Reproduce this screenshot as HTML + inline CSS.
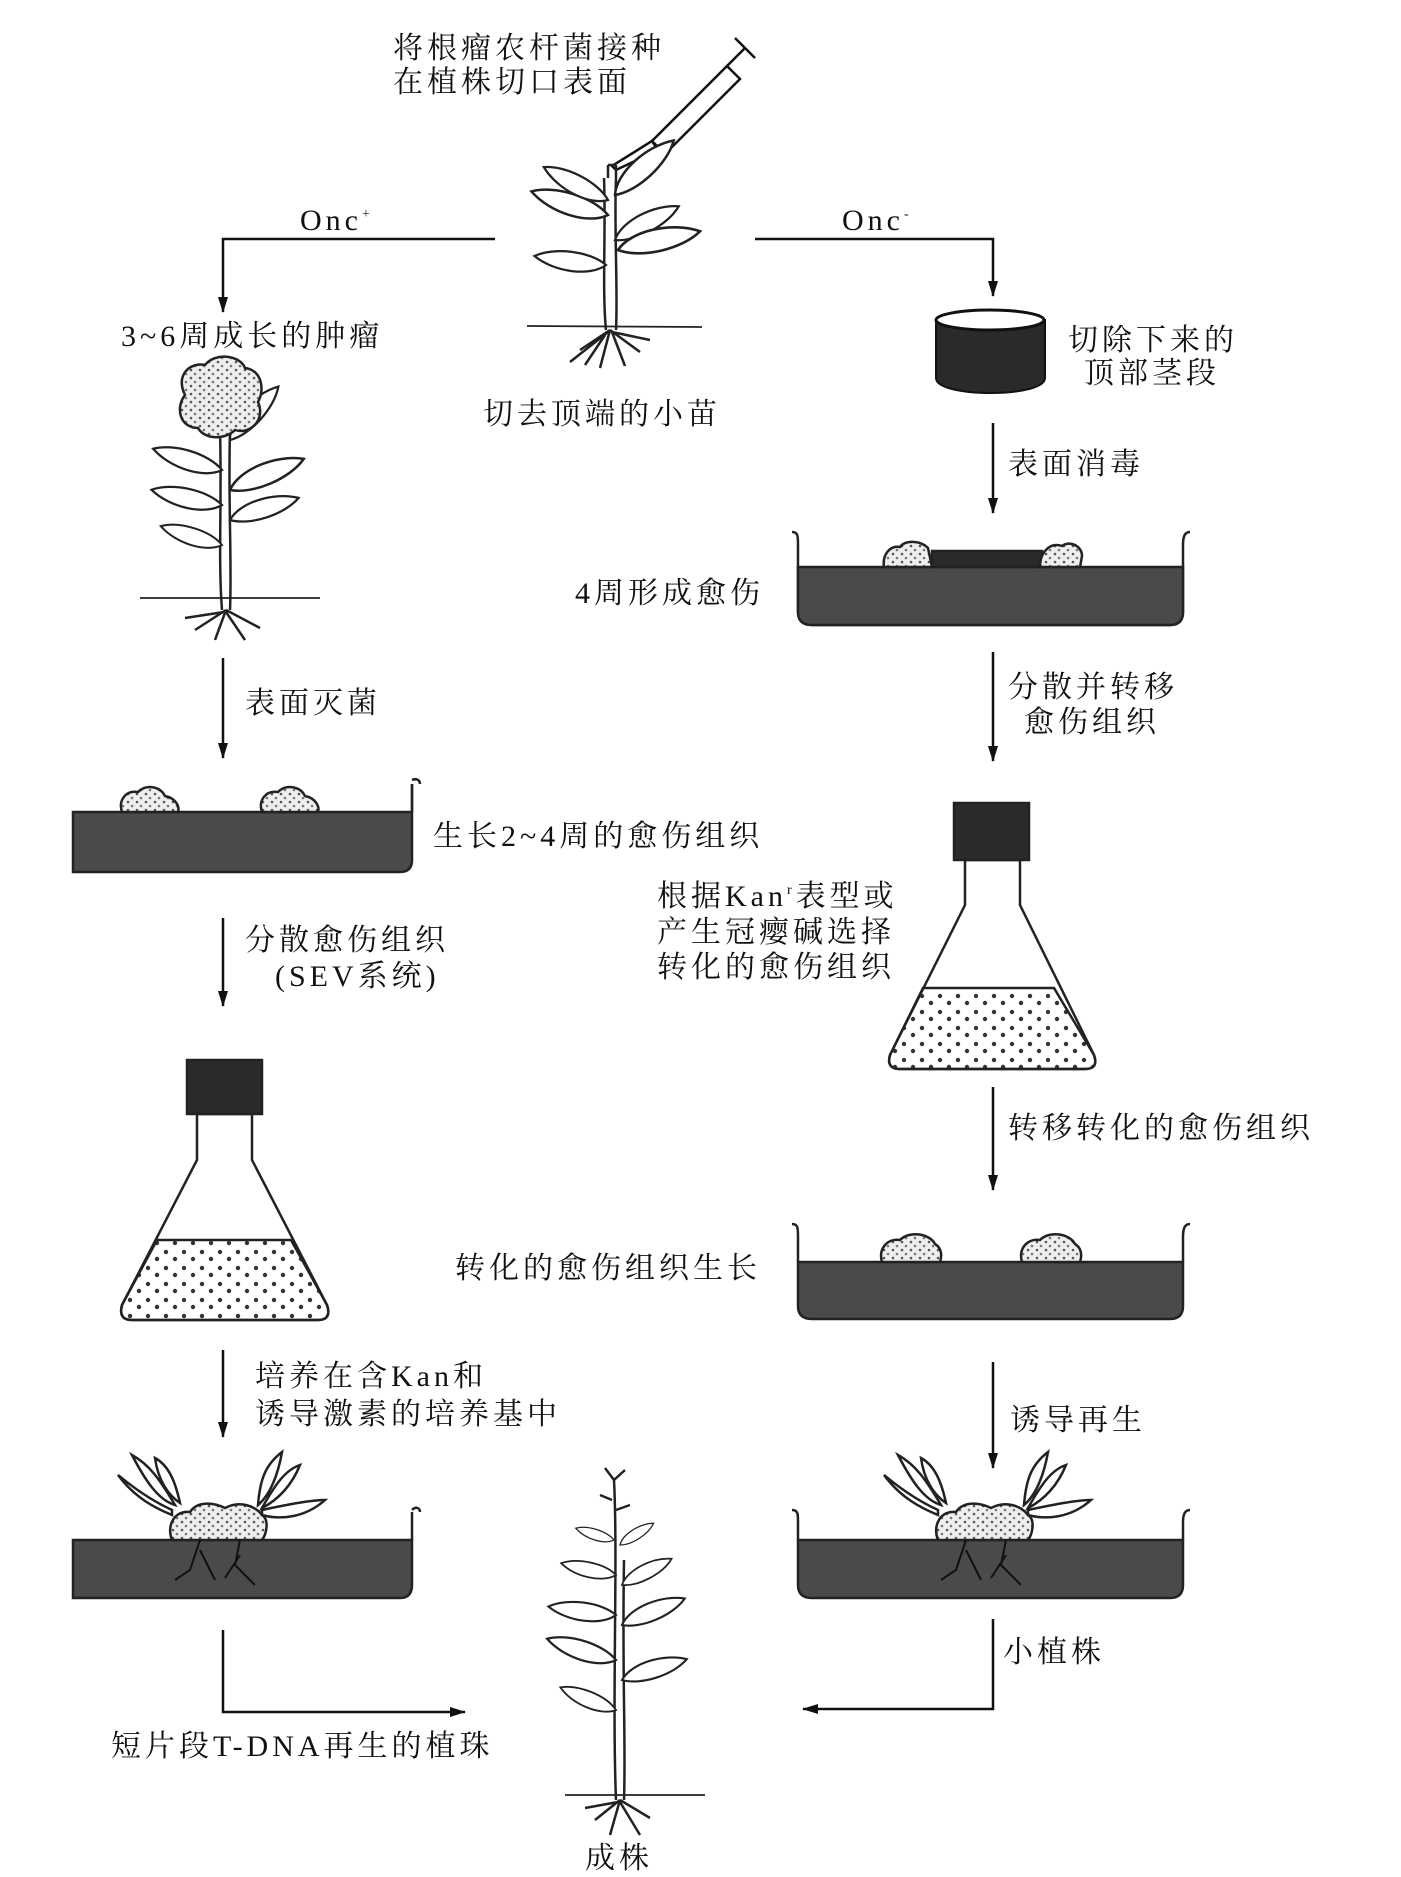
<!DOCTYPE html>
<html><head><meta charset="utf-8"><style>
html,body{margin:0;padding:0;background:#fff;}
svg{display:block;}
text{font-family:"Liberation Serif","Noto Serif CJK SC","Noto Sans CJK SC",serif;font-size:30px;fill:#111;letter-spacing:4px;}
</style></head><body>
<svg width="1401" height="1877" viewBox="0 0 1401 1877" xmlns="http://www.w3.org/2000/svg">
<defs>
<marker id="ar" markerWidth="16" markerHeight="10" refX="15" refY="5" orient="auto" markerUnits="userSpaceOnUse"><path d="M0,0 L16,5 L0,10 Z" fill="#111"/></marker>
<pattern id="dots" width="18" height="16" patternUnits="userSpaceOnUse"><circle cx="4" cy="4" r="2.2" fill="#333"/><circle cx="13" cy="11" r="2.2" fill="#333"/></pattern>
<pattern id="cal" width="9" height="8" patternUnits="userSpaceOnUse"><rect width="9" height="8" fill="#eee"/><circle cx="2" cy="2" r="1.3" fill="#555"/><circle cx="6" cy="6" r="1.3" fill="#777"/></pattern>
<path id="leaf" d="M0,0 C15,-16 55,-18 80,-4 C60,10 20,12 0,0Z" fill="#fff" stroke="#222" stroke-width="2.5"/>
</defs>
<g stroke="#111" stroke-width="2.5" fill="none">
<path d="M495,239 H223 V312" marker-end="url(#ar)"/>
<path d="M755,239 H993 V296" marker-end="url(#ar)"/>
<path d="M223,658 V758" marker-end="url(#ar)"/>
<path d="M223,918 V1006" marker-end="url(#ar)"/>
<path d="M223,1350 V1437" marker-end="url(#ar)"/>
<path d="M223,1630 V1712 H465" marker-end="url(#ar)"/>
<path d="M993,1619 V1709 H803" marker-end="url(#ar)"/>
<path d="M993,423 V513" marker-end="url(#ar)"/>
<path d="M993,652 V761" marker-end="url(#ar)"/>
<path d="M993,1087 V1190" marker-end="url(#ar)"/>
<path d="M993,1362 V1468" marker-end="url(#ar)"/>
</g>
<g stroke="#111" stroke-width="2.5" fill="#fff">
<path d="M735,38 L755,58"/>
<path d="M745,48 L727,66"/>
<path d="M727,66 L652,141 L665,154 L740,79 Z"/>
<path d="M652,141 L658,150 L616,170 L612,166 Z" fill="none"/>
</g>
<g stroke="#222" stroke-width="2.5" fill="none">
<line x1="527" y1="326" x2="702" y2="327" stroke-width="1.8"/>
<path d="M608,165 V178 M616,165 V178 M608,165 H616"/>
<path d="M604,178 C606,230 602,290 606,330 M616,178 C614,230 618,290 616,330"/>
<path d="M610,330 L580,350 M610,330 L640,352 M610,330 L600,368 M612,332 L625,366 M608,332 L570,362 M612,332 L650,340 M605,335 L585,365"/>
</g>
<use href="#leaf" transform="translate(615,195) rotate(-40)"/>
<use href="#leaf" transform="translate(608,215) rotate(-160) scale(1)"/>
<use href="#leaf" transform="translate(608,200) rotate(-150) scale(0.9)"/>
<use href="#leaf" transform="translate(615,240) rotate(-25) scale(0.9)"/>
<use href="#leaf" transform="translate(618,250) rotate(-10) scale(1.05)"/>
<use href="#leaf" transform="translate(606,265) rotate(190) scale(0.9)"/>
<g stroke="#222" stroke-width="2.5" fill="none">
<line x1="140" y1="598" x2="320" y2="598" stroke-width="1.8"/>
<path d="M220,430 C222,500 218,560 222,610 M230,430 C228,500 232,560 230,610"/>
<path d="M226,610 L195,630 M226,610 L260,628 M226,610 L215,640 M226,612 L245,640 M224,612 L185,618"/>
</g>
<use href="#leaf" transform="translate(230,440) rotate(-45) scale(0.9)"/>
<use href="#leaf" transform="translate(222,470) rotate(-160) scale(0.9)"/>
<use href="#leaf" transform="translate(230,490) rotate(-20) scale(1)"/>
<use href="#leaf" transform="translate(222,505) rotate(195) scale(0.9)"/>
<use href="#leaf" transform="translate(230,520) rotate(-15) scale(0.9)"/>
<use href="#leaf" transform="translate(222,545) rotate(200) scale(0.8)"/>
<path d="M185,395 C175,375 190,362 205,365 C215,352 240,355 245,368 C262,370 265,390 258,402 C266,420 250,435 235,430 C225,440 205,440 198,428 C180,428 175,408 185,395Z" fill="url(#cal)" stroke="#222" stroke-width="2.5"/>
<path d="M936,320 V378 C936,398 1045,398 1045,378 V320 Z" fill="#2a2a2a" stroke="#111" stroke-width="2"/>
<ellipse cx="990" cy="320" rx="54" ry="10" fill="#fff" stroke="#111" stroke-width="3"/>
<g stroke="#222" stroke-width="2.5">
<path d="M792,532 C798,532 798,536 798,545 V612 Q798,625 812,625 H1170 Q1183,625 1183,612 V545 C1183,536 1185,532 1190,532" fill="none"/>
<path d="M798,567 H1183 V612 Q1183,625 1170,625 H812 Q798,625 798,612 Z" fill="#4a4a4a"/>
<rect x="932" y="551" width="110" height="16" fill="#2a2a2a"/>
<path d="M884,567 C882,555 890,545 900,547 C905,540 920,540 928,548 L932,567Z" fill="url(#cal)"/>
<path d="M1040,567 C1040,552 1050,542 1062,546 C1070,540 1082,546 1082,556 L1080,567Z" fill="url(#cal)"/>
<path d="M412,780 C416,778 420,780 420,784" fill="none"/>
<path d="M412,784 V860 Q412,872 400,872 H73 V812 H412" fill="#4a4a4a"/>
<path d="M412,784 V812" fill="none"/>
<path d="M122,812 C118,800 126,790 138,792 C146,784 160,786 165,796 C175,798 180,806 178,812Z" fill="url(#cal)"/>
<path d="M262,812 C258,800 266,790 278,792 C286,784 300,786 305,796 C315,798 320,806 318,812Z" fill="url(#cal)"/>
<path d="M792,1224 C798,1224 798,1228 798,1237 V1248 M1183,1248 V1237 C1183,1228 1185,1224 1190,1224" fill="none"/>
<path d="M798,1262 H1183 V1306 Q1183,1319 1170,1319 H812 Q798,1319 798,1306 Z" fill="#4a4a4a"/>
<path d="M798,1248 V1262 M1183,1248 V1262" fill="none"/>
<path d="M882,1262 C878,1248 888,1238 900,1240 C910,1230 930,1234 935,1244 C942,1248 942,1256 940,1262Z" fill="url(#cal)"/>
<path d="M1022,1262 C1018,1248 1028,1238 1040,1240 C1050,1230 1070,1234 1075,1244 C1082,1248 1082,1256 1080,1262Z" fill="url(#cal)"/>
<path d="M412,1510 C416,1506 420,1508 420,1512 M412,1512 V1540" fill="none"/>
<path d="M73,1540 H412 V1585 Q412,1598 400,1598 H73 Z" fill="#4a4a4a"/>
<path d="M792,1510 C798,1510 798,1514 798,1522 V1540 M1183,1540 V1522 C1183,1514 1185,1510 1190,1510" fill="none"/>
<path d="M798,1540 H1183 V1585 Q1183,1598 1170,1598 H812 Q798,1598 798,1585 Z" fill="#4a4a4a"/>
</g>
<g stroke="#222" stroke-width="2.5">
<path d="M172,1540 C166,1525 175,1510 190,1512 C198,1500 215,1503 225,1508 C240,1500 255,1506 262,1515 C270,1520 266,1535 262,1540Z" fill="url(#cal)"/>
<path d="M172,1510 C150,1500 130,1485 118,1475 C135,1498 155,1508 172,1515 Z M175,1505 C160,1480 150,1465 132,1455 C145,1480 158,1500 175,1505Z M180,1503 C175,1480 168,1465 155,1458 C158,1480 168,1495 180,1503Z" fill="#fff"/>
<path d="M262,1510 C285,1505 310,1500 325,1500 C305,1518 280,1520 262,1515Z M258,1505 C260,1480 265,1465 282,1452 C278,1475 270,1495 258,1505Z M262,1508 C275,1485 285,1470 300,1465 C292,1485 278,1500 262,1508Z" fill="#fff"/>
<path d="M938,1540 C932,1525 941,1510 956,1512 C964,1500 981,1503 991,1508 C1006,1500 1021,1506 1028,1515 C1036,1520 1032,1535 1028,1540Z" fill="url(#cal)"/>
<path d="M938,1510 C916,1500 896,1485 884,1475 C901,1498 921,1508 938,1515 Z M941,1505 C926,1480 916,1465 898,1455 C911,1480 924,1500 941,1505Z M946,1503 C941,1480 934,1465 921,1458 C924,1480 934,1495 946,1503Z" fill="#fff"/>
<path d="M1028,1510 C1051,1505 1076,1500 1091,1500 C1071,1518 1046,1520 1028,1515Z M1024,1505 C1026,1480 1031,1465 1048,1452 C1044,1475 1036,1495 1024,1505Z M1028,1508 C1041,1485 1051,1470 1066,1465 C1058,1485 1044,1500 1028,1508Z" fill="#fff"/>
</g>
<g stroke="#111" stroke-width="2" fill="none">
<path d="M200,1540 L190,1570 L175,1580 M200,1550 L215,1580 M240,1540 L235,1565 L255,1585 M240,1555 L225,1578"/>
<path d="M966,1540 L956,1570 L941,1580 M966,1550 L981,1580 M1006,1540 L1001,1565 L1021,1585 M1006,1555 L991,1578"/>
</g>
<g stroke="#222" stroke-width="2.5">
<path d="M197,1114 V1160 L122,1305 Q118,1320 132,1320 H318 Q332,1320 327,1305 L252,1160 V1114 Z" fill="#fff"/>
<path d="M157,1240 H291 L327,1305 Q332,1320 318,1320 H132 Q118,1320 122,1305 Z" fill="url(#dots)"/>
<rect x="187" y="1060" width="75" height="54" fill="#2a2a2a"/>
<path d="M965,860 V905 L890,1055 Q886,1069 900,1069 H1085 Q1099,1069 1094,1055 L1020,905 V860 Z" fill="#fff"/>
<path d="M923,988 H1054 L1094,1055 Q1099,1069 1085,1069 H900 Q886,1069 890,1055 Z" fill="url(#dots)"/>
<rect x="954" y="803" width="75" height="57" fill="#2a2a2a"/>
</g>
<g stroke="#222" stroke-width="2.5" fill="none">
<line x1="565" y1="1795" x2="705" y2="1795" stroke-width="1.8"/>
<path d="M614,1480 C618,1560 612,1700 616,1800 M624,1560 C622,1680 626,1740 624,1800"/>
<path d="M620,1800 L595,1820 M620,1800 L650,1818 M620,1800 L610,1835 M620,1802 L640,1835 M618,1802 L585,1808"/>
<path d="M614,1480 L605,1468 M614,1480 L625,1470 M612,1500 L600,1495 M616,1510 L630,1505"/>
</g>
<use href="#leaf" transform="translate(614,1540) rotate(200) scale(0.5)"/>
<use href="#leaf" transform="translate(620,1545) rotate(-30) scale(0.5)"/>
<use href="#leaf" transform="translate(616,1575) rotate(195) scale(0.7)"/>
<use href="#leaf" transform="translate(622,1585) rotate(-25) scale(0.7)"/>
<use href="#leaf" transform="translate(616,1615) rotate(190) scale(0.85)"/>
<use href="#leaf" transform="translate(622,1625) rotate(-20) scale(0.85)"/>
<use href="#leaf" transform="translate(616,1660) rotate(200) scale(0.9)"/>
<use href="#leaf" transform="translate(622,1680) rotate(-15) scale(0.85)"/>
<use href="#leaf" transform="translate(616,1710) rotate(205) scale(0.75)"/>
<text x="393" y="58">将根瘤农杆菌接种</text>
<text x="393" y="92">在植株切口表面</text>
<text x="300" y="230">Onc<tspan font-size="14" dy="-12">+</tspan></text>
<text x="842" y="230">Onc<tspan font-size="14" dy="-12">-</tspan></text>
<text x="121" y="346">3~6周成长的肿瘤</text>
<text x="483" y="424">切去顶端的小苗</text>
<text x="1068" y="350">切除下来的</text>
<text x="1084" y="383">顶部茎段</text>
<text x="1008" y="474">表面消毒</text>
<text x="575" y="603">4周形成愈伤</text>
<text x="1008" y="697">分散并转移</text>
<text x="1024" y="732">愈伤组织</text>
<text x="245" y="713">表面灭菌</text>
<text x="433" y="846">生长2~4周的愈伤组织</text>
<text x="657" y="906">根据Kan<tspan font-size="14" dy="-12">r</tspan><tspan dy="12">表型或</tspan></text>
<text x="657" y="942">产生冠瘿碱选择</text>
<text x="657" y="977">转化的愈伤组织</text>
<text x="245" y="950">分散愈伤组织</text>
<text x="275" y="986">(SEV系统)</text>
<text x="1008" y="1138">转移转化的愈伤组织</text>
<text x="455" y="1278">转化的愈伤组织生长</text>
<text x="255" y="1386">培养在含Kan和</text>
<text x="255" y="1424">诱导激素的培养基中</text>
<text x="1010" y="1430">诱导再生</text>
<text x="1003" y="1662">小植株</text>
<text x="111" y="1756">短片段T-DNA再生的植珠</text>
<text x="585" y="1868">成株</text>
</svg>
</body></html>
